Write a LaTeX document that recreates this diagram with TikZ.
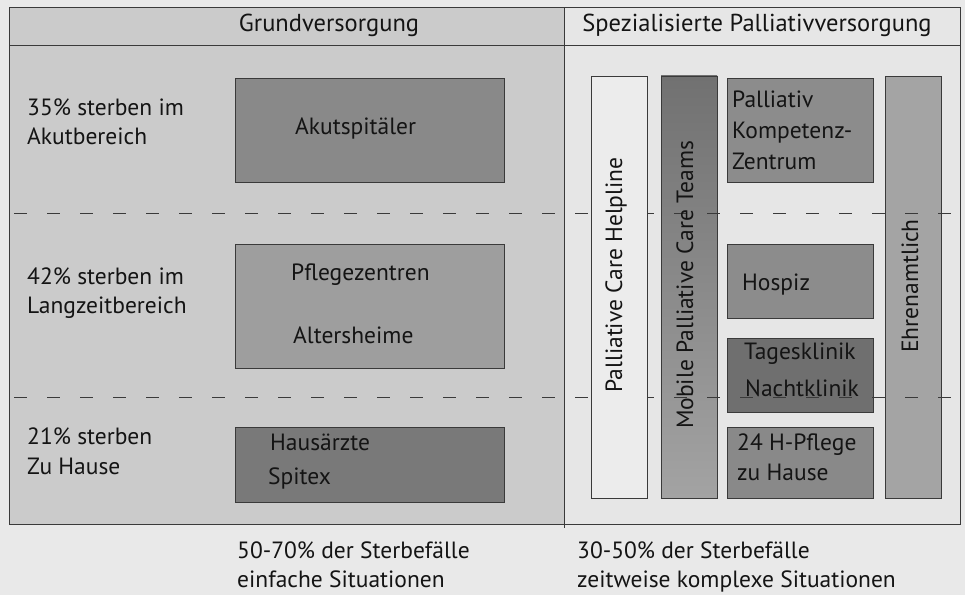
\documentclass[tikz,border=0pt]{standalone}
\usepackage{fontspec}
\setmainfont{PT Sans}
\definecolor{bgc}{HTML}{E9E9E9}
\definecolor{leftc}{HTML}{CBCBCB}
\definecolor{rightc}{HTML}{E6E6E6}
\definecolor{linec}{HTML}{3A3A3A}
\definecolor{textc}{HTML}{141414}
\definecolor{akutc}{HTML}{898989}
\definecolor{pflc}{HTML}{9E9E9E}
\definecolor{hausc}{HTML}{797979}
\definecolor{helpc}{HTML}{ECECEC}
\definecolor{mobtop}{HTML}{717171}
\definecolor{mobbot}{HTML}{A3A3A3}
\definecolor{kompc}{HTML}{8C8C8C}
\definecolor{tagc}{HTML}{6F6F6F}
\definecolor{ehrc}{HTML}{A4A4A4}
\newcommand\myfs{\fontsize{23.5bp}{29bp}\selectfont}
\newcommand\hdfs{\fontsize{24.5bp}{29bp}\selectfont}
\begin{document}
\begin{tikzpicture}[x=1bp,y=-1bp,
  colbox/.style={draw=linec, line width=1bp},
  box/.style={draw=linec, line width=0.8bp, anchor=north west, inner sep=0, outer sep=0},
  lbl/.style={anchor=mid west, inner sep=0, text=textc, font=\myfs, yshift=-5bp},
  ctr/.style={inner sep=0, text=textc, font=\myfs},
  dashln/.style={draw=linec, line width=0.9bp, dash pattern=on 13bp off 20bp, dash phase=-5bp}]
\useasboundingbox[fill=bgc] (0,0) rectangle (965,595);
% columns
\path[colbox, fill=leftc] (9,8) rectangle (564,524);
\path[colbox, fill=rightc] (564,8) rectangle (960,524);
\coordinate (hl) at (9,46);
\coordinate (hr) at (960,46);
\draw[linec, line width=1bp] (hl) -- (hr);
\coordinate (dtop) at (564,8);
\coordinate (dbot) at (564,528);
\draw[linec, line width=1bp] (dtop) -- (dbot);
% headers
\node[ctr, font=\hdfs] (h1) at (329,25) {Grundversorgung};
\node[ctr, font=\hdfs] (h2) at (757,25) {Spezialisierte Palliativversorgung};
% left boxes
\node[box, fill=akutc, minimum width=269bp, minimum height=104bp] (akut) at (235,78) {};
\node[box, fill=pflc, minimum width=269bp, minimum height=124bp] (pfl) at (235,244) {};
\node[box, fill=hausc, minimum width=269bp, minimum height=75bp] (haus) at (235,427) {};
% right boxes
\node[box, shade, top color=mobtop, bottom color=mobbot, minimum width=56bp, minimum height=422bp] (mob) at (661,76) {};
\node[box, fill=kompc, minimum width=146bp, minimum height=104bp] (komp) at (727,78) {};
\node[box, fill=kompc, minimum width=146bp, minimum height=74bp] (hosp) at (727,244) {};
\node[box, fill=tagc, minimum width=146bp, minimum height=74bp] (tag) at (727,338) {};
\node[box, fill=akutc, minimum width=146bp, minimum height=71bp] (h24) at (727,427) {};
\node[box, fill=ehrc, minimum width=56bp, minimum height=422bp] (ehr) at (885,76) {};
% dashed separators
\coordinate (d1l) at (9,213);
\coordinate (d1r) at (960,213);
\coordinate (d2l) at (9,397);
\coordinate (d2r) at (960,397);
\draw[dashln] (d1l) -- (d1r);
\draw[dashln] (d2l) -- (d2r);
\node[box, fill=helpc, minimum width=56bp, minimum height=422bp] (help) at (591,76) {};
% left labels
\node[lbl] (l1a) at (27,108) {35\% sterben im};
\node[lbl] (l1b) at (27,137) {Akutbereich};
\node[lbl] (l2a) at (27,277) {42\% sterben im};
\node[lbl] (l2b) at (27,306) {Langzeitbereich};
\node[lbl] (l3a) at (27,437) {21\% sterben};
\node[lbl] (l3b) at (27,467) {Zu Hause};
% left box texts
\node[lbl] (t1) at (295,127) {Akutspitäler};
\node[lbl] (t2a) at (291,273) {Pflegezentren};
\node[lbl] (t2b) at (293,336) {Altersheime};
\node[lbl] (t3a) at (270,443) {Hausärzte};
\node[lbl] (t3b) at (268,477) {Spitex};
% right box texts
\node[ctr, rotate=90] (r1) at (616,275) {Palliative Care Helpline};
\node[ctr, rotate=90] (r2) at (685,285) {Mobile Palliative Care Teams};
\node[ctr, rotate=90] (r3) at (910,286) {Ehrenamtlich};
\node[lbl] (k1) at (732,100) {Palliativ};
\node[lbl] (k2) at (732,131) {Kompetenz-};
\node[lbl] (k3) at (732,162) {Zentrum};
\node[lbl] (hs) at (742,283) {Hospiz};
\node[lbl] (tg1) at (744,352) {Tagesklinik};
\node[lbl] (tg2) at (745,389) {Nachtklinik};
\node[lbl] (p1) at (737,443) {24 H-Pflege};
\node[lbl] (p2) at (737,473) {zu Hause};
% bottom texts
\node[lbl] (b1a) at (237,551) {50-70\% der Sterbefälle};
\node[lbl] (b1b) at (237,580) {einfache Situationen};
\node[lbl] (b2a) at (577,551) {30-50\% der Sterbefälle};
\node[lbl] (b2b) at (577,580) {zeitweise komplexe Situationen};
\end{tikzpicture}
\end{document}
